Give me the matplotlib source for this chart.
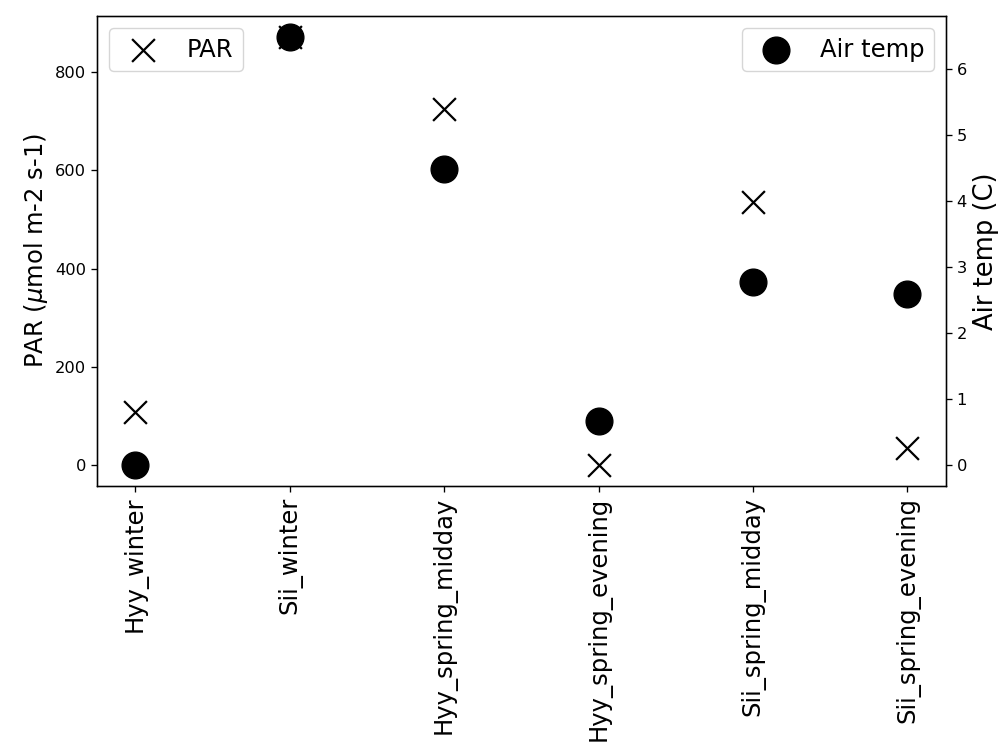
import matplotlib
matplotlib.use("Agg")
import matplotlib.pyplot as plt

# site/period categories
cases = ["Hyy_winter", "Sii_winter", "Hyy_spring_midday",
         "Hyy_spring_evening", "Sii_spring_midday", "Sii_spring_evening"]
# PAR (umol m-2 s-1) and air temperature (C)
par = [107, 872, 726, 0, 535, 35]
air_temp = [0.0, 6.48, 4.48, 0.67, 2.77, 2.59]

plt.rcParams["axes.linewidth"] = 0.95
fig, ax = plt.subplots(figsize=(9.98, 7.49), dpi=100)
fig.subplots_adjust(left=0.097, right=0.948, top=0.979, bottom=0.351)

ax.scatter(cases, par, marker="x", s=270, c="k", linewidths=1.6, label="PAR")
ax.set_ylabel(r"PAR ($\mu$mol m-2 s-1)", fontsize=17.5)
ax.tick_params(axis="y", labelsize=11.7, length=4.1, width=0.95)
ax.tick_params(axis="x", labelrotation=90, labelsize=17.5, length=4.1, width=0.95)
ax.legend(loc="upper left", fontsize=17.5)

ax2 = ax.twinx()
ax2.scatter(cases, air_temp, marker="o", s=370, c="k", label="Air temp")
ax2.set_ylabel("Air temp (C)", fontsize=18.5)
ax2.tick_params(axis="y", labelsize=11.7, length=4.1, width=0.95)
ax2.legend(loc="upper right", fontsize=17.5)

fig.savefig("out.png")
